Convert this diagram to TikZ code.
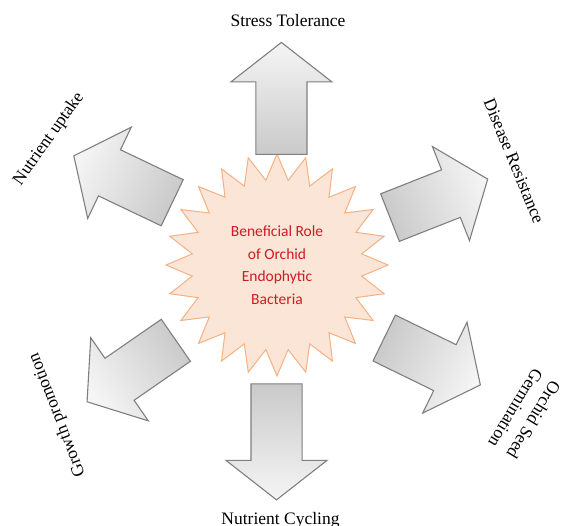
\documentclass[tikz,border=0pt]{standalone}
\usepackage{fontspec}
\setmainfont{Liberation Serif}
\newfontfamily\carlito{Carlito}
\usetikzlibrary{shapes.geometric, shapes.arrows}
\definecolor{starfill}{HTML}{FBE5D6}
\definecolor{starline}{HTML}{F4B183}
\definecolor{roletext}{RGB}{204,28,36}
\definecolor{arrowline}{HTML}{7F7F7F}
\tikzset{
  rolearrow/.style = {single arrow, draw=arrowline, line width=1.1pt, top color=gray!8, bottom color=gray!42,
    rotate=#1, shading angle=#1-90,
    inner xsep=0pt, inner ysep=25pt, single arrow head extend=25pt, single arrow tip angle=104, anchor=tail},
  rolelabel/.style = {font=\fontsize{17.5}{21.5}\selectfont, inner sep=0pt},
  rolestar/.style = {star, star points=24, star point ratio=1.3, minimum size=222pt, inner sep=0pt,
    fill=starfill, draw=starline, line width=1pt, text=roletext, align=center,
    font=\carlito\fontsize{15.5}{22.5}\selectfont}
}
\begin{document}
\begin{tikzpicture}[x=1pt, y=1pt]
\useasboundingbox (0,0) rectangle (562,526);
\node[rolestar] (role) at (277,261) {Beneficial Role\\of Orchid\\Endophytic\\Bacteria};
\node[rolearrow=90, minimum height=112pt] (stress) at (281.4,371) {};
\node[rolearrow=21.5, minimum height=105pt] (disease) at (389.5,308.2) {};
\node[rolearrow=-26, minimum height=107pt] (seed) at (383.7,188.2) {};
\node[rolearrow=-90, minimum height=116pt] (cycling) at (276.5,142.7) {};
\node[rolearrow=214.7, minimum height=108pt] (growth) at (176.3,186) {};
\node[rolearrow=154.5, minimum height=109pt] (uptake) at (172.7,323) {};
\node[rolelabel, anchor=base] (stresstxt) at (288,499) {Stress Tolerance};
\node[rolelabel, rotate=-67.6] (diseasetxt) at (514,365) {Disease Resistance};
\node[rolelabel, rotate=-121.3, align=right] (seedtxt) at (525,112) {Orchid Seed\\Germination};
\node[rolelabel, anchor=base] (cyclingtxt) at (280.5,1) {Nutrient Cycling};
\node[rolelabel, rotate=111.3] (growthtxt) at (57.5,111) {Growth promotion};
\node[rolelabel, rotate=54.7] (uptaketxt) at (49,387) {Nutrient uptake};
\end{tikzpicture}
\end{document}
